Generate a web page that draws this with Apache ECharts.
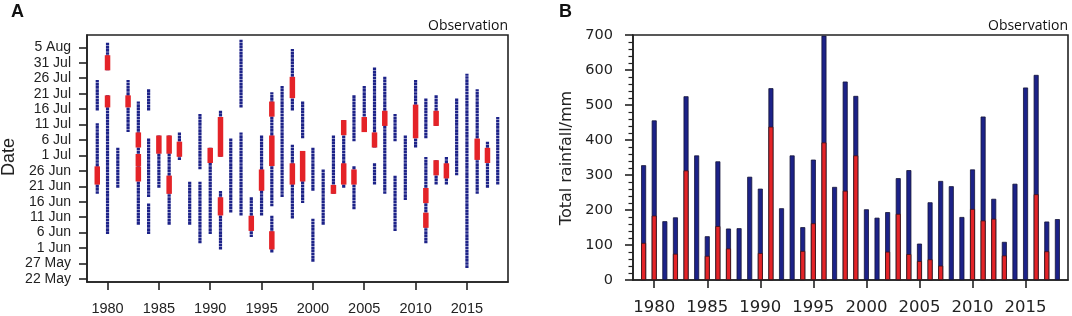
<!DOCTYPE html>
<html>
<head>
<meta charset="utf-8">
<script src="https://cdn.jsdelivr.net/npm/echarts@6/dist/echarts.min.js"></script>
<style>
  html, body { margin: 0; padding: 0; background: #fff; }
  #chart { width: 1072px; height: 316px; }
</style>
</head>
<body>
<div id="chart"></div>
<script>
// panel B: total rainfall per year, red part = heavy-rain share (null = no red bar)
const years = [1979, 1980, 1981, 1982, 1983, 1984, 1985, 1986, 1987, 1988,
  1989, 1990, 1991, 1992, 1993, 1994, 1995, 1996, 1997, 1998,
  1999, 2000, 2001, 2002, 2003, 2004, 2005, 2006, 2007, 2008,
  2009, 2010, 2011, 2012, 2013, 2014, 2015, 2016, 2017, 2018];
const totalRain = [328, 456, 168, 179, 525, 356, 125, 339, 147, 148,
  295, 261, 548, 205, 356, 151, 344, 698, 266, 567,
  526, 202, 178, 194, 291, 314, 104, 222, 283, 268,
  180, 316, 467, 232, 109, 275, 550, 586, 167, 174];
const heavyRain = [106, 184, null, 75, 313, null, 69, 154, 90, null,
  null, 77, 438, null, null, 83, 162, 393, null, 255,
  356, null, null, 81, 189, 74, 54, 59, 41, null,
  null, 203, 170, 175, 70, null, null, 245, 82, null];

// panel A: tick labels of the date axis
const dateTicks = ['22 May', '27 May', '1 Jun', '6 Jun', '11 Jun', '16 Jun', '21 Jun', '26 Jun',
  '1 Jul', '6 Jul', '11 Jul', '16 Jul', '21 Jul', '26 Jul', '31 Jul', '5 Aug'];
const yearTicks = [1980, 1985, 1990, 1995, 2000, 2005, 2010, 2015];
const rainTicks = [0, 100, 200, 300, 400, 500, 600, 700];

// panel A: rainy periods [year, first day, last day]
const rainPeriods = [
  [1979, '16 Jul', '25 Jul'], [1979, '19 Jun', '11 Jul'],
  [1980, '29 Jul', '6 Aug'], [1980, '6 Jun', '20 Jul'],
  [1981, '21 Jun', '3 Jul'],
  [1982, '9 Jul', '25 Jul'],
  [1983, '9 Jun', '18 Jul'],
  [1984, '16 Jul', '22 Jul'], [1984, '18 Jun', '6 Jul'], [1984, '6 Jun', '15 Jun'],
  [1985, '21 Jun', '7 Jul'],
  [1986, '9 Jun', '7 Jul'],
  [1987, '30 Jun', '8 Jul'],
  [1988, '9 Jun', '22 Jun'],
  [1989, '27 Jun', '14 Jul'], [1989, '3 Jun', '22 Jun'],
  [1990, '6 Jun', '3 Jul'],
  [1991, '1 Jul', '15 Jul'], [1991, '1 Jun', '19 Jun'],
  [1992, '13 Jun', '6 Jul'],
  [1993, '17 Jul', '7 Aug'], [1993, '12 Jun', '8 Jul'],
  [1994, '5 Jun', '17 Jun'],
  [1995, '12 Jun', '7 Jul'],
  [1996, '15 Jun', '21 Jul'], [1996, '31 May', '11 Jun'],
  [1997, '18 Jun', '23 Jul'],
  [1998, '16 Jul', '4 Aug'], [1998, '11 Jun', '4 Jul'],
  [1999, '7 Jul', '18 Jul'], [1999, '16 Jun', '2 Jul'],
  [2000, '20 Jun', '3 Jul'], [2000, '28 May', '10 Jun'],
  [2001, '9 Jun', '26 Jun'],
  [2002, '19 Jun', '7 Jul'],
  [2003, '21 Jun', '12 Jul'],
  [2004, '6 Jul', '20 Jul'], [2004, '14 Jun', '27 Jun'],
  [2005, '9 Jul', '23 Jul'],
  [2006, '4 Jul', '29 Jul'], [2006, '22 Jun', '28 Jun'],
  [2007, '19 Jun', '26 Jul'],
  [2008, '6 Jul', '14 Jul'], [2008, '7 Jun', '24 Jun'],
  [2009, '17 Jun', '7 Jul'],
  [2010, '4 Jul', '25 Jul'],
  [2011, '7 Jul', '19 Jul'], [2011, '3 Jun', '30 Jun'],
  [2012, '11 Jul', '20 Jul'], [2012, '22 Jun', '29 Jun'],
  [2013, '22 Jun', '30 Jun'],
  [2014, '25 Jun', '19 Jul'],
  [2015, '26 May', '27 Jul'],
  [2016, '19 Jun', '22 Jul'],
  [2017, '21 Jun', '5 Jul'],
  [2018, '22 Jun', '13 Jul'],
];

// panel A: heavy-rain periods (red)
const heavyPeriods = [
  [1979, '22 Jun', '27 Jun'],
  [1980, '29 Jul', '2 Aug'], [1980, '17 Jul', '20 Jul'],
  [1982, '17 Jul', '20 Jul'],
  [1983, '4 Jul', '8 Jul'], [1983, '28 Jun', '1 Jul'], [1983, '23 Jun', '27 Jun'],
  [1985, '2 Jul', '7 Jul'],
  [1986, '2 Jul', '7 Jul'], [1986, '19 Jun', '24 Jun'],
  [1987, '1 Jul', '5 Jul'],
  [1990, '29 Jun', '3 Jul'],
  [1991, '1 Jul', '13 Jul'], [1991, '12 Jun', '17 Jun'],
  [1994, '7 Jun', '11 Jun'],
  [1995, '20 Jun', '26 Jun'],
  [1996, '14 Jul', '18 Jul'], [1996, '28 Jun', '7 Jul'], [1996, '1 Jun', '6 Jun'],
  [1998, '20 Jul', '26 Jul'], [1998, '22 Jun', '28 Jun'],
  [1999, '23 Jun', '2 Jul'],
  [2002, '19 Jun', '21 Jun'],
  [2003, '8 Jul', '12 Jul'], [2003, '22 Jun', '28 Jun'],
  [2004, '22 Jun', '26 Jun'],
  [2005, '9 Jul', '13 Jul'],
  [2006, '4 Jul', '8 Jul'],
  [2007, '11 Jul', '15 Jul'],
  [2010, '7 Jul', '17 Jul'],
  [2011, '16 Jun', '20 Jun'], [2011, '8 Jun', '12 Jun'],
  [2012, '11 Jul', '15 Jul'], [2012, '25 Jun', '29 Jun'],
  [2013, '24 Jun', '28 Jun'],
  [2016, '30 Jun', '6 Jul'],
  [2017, '29 Jun', '3 Jul'],
];

const monthStart = {May: 120, Jun: 151, Jul: 181, Aug: 212};
function dayOfYear(s) {
  const [d, m] = s.split(' ');
  return monthStart[m] + Number(d);
}
const tickDays = dateTicks.map(dayOfYear);
const tickLabel = {};
dateTicks.forEach((t, i) => { tickLabel[tickDays[i]] = t; });

const BLUE = '#1c2288';
const RED = '#e42328';
const AXIS = '#222';

// a period covers its first and last day dots fully
const toSpan = p => [p[0], dayOfYear(p[1]) - 0.45, dayOfYear(p[2]) + 0.45];

function periodRenderer(color, width, dash) {
  return (params, api) => {
    const a = api.coord([api.value(0), api.value(1)]);
    const b = api.coord([api.value(0), api.value(2)]);
    return {
      type: 'line',
      shape: {x1: a[0], y1: a[1], x2: b[0], y2: b[1]},
      style: {stroke: color, lineWidth: width, lineDash: dash, lineCap: 'butt'}
    };
  };
}

const axisLine = {show: true, lineStyle: {color: AXIS, width: 1.6}};
const axisTick = {show: true, length: 8, lineStyle: {color: AXIS, width: 1.6}};
const yearLabel = v => String(v);

const chart = echarts.init(document.getElementById('chart'), null, {renderer: 'canvas'});
chart.setOption({
  animation: false,
  backgroundColor: '#fff',
  grid: [
    {left: 87, top: 35, right: 564, bottom: 33, show: true, borderColor: AXIS, borderWidth: 1.6},
    {left: 633, top: 35, right: 4, bottom: 33, show: true, borderColor: AXIS, borderWidth: 1.6}
  ],
  xAxis: [
    {
      gridIndex: 0, type: 'value', min: 1978, max: 2019,
      axisLine, splitLine: {show: false},
      axisTick: Object.assign({customValues: yearTicks}, axisTick),
      axisLabel: {customValues: yearTicks, margin: 19, color: '#222', fontSize: 14.5,
        fontFamily: 'Liberation Sans, Arial, sans-serif', formatter: yearLabel}
    },
    {
      gridIndex: 1, type: 'value', min: 1978, max: 2019,
      axisLine, splitLine: {show: false},
      axisTick: Object.assign({customValues: yearTicks}, axisTick),
      axisLabel: {customValues: yearTicks, margin: 19, color: '#222', fontSize: 16.5,
        fontFamily: 'DejaVu Sans, sans-serif', formatter: yearLabel}
    }
  ],
  yAxis: [
    {
      gridIndex: 0, type: 'value', min: 141, max: 221,
      axisLine, splitLine: {show: false},
      axisTick: Object.assign({customValues: tickDays}, axisTick),
      axisLabel: {customValues: tickDays, margin: 16, color: '#222', fontSize: 14,
        fontFamily: 'Liberation Sans, Arial, sans-serif',
        formatter: v => tickLabel[Math.round(v)] || ''}
    },
    {
      gridIndex: 1, type: 'value', min: 0, max: 700, interval: 100,
      axisLine, splitLine: {show: false}, axisTick,
      minorTick: {show: true, splitNumber: 5, length: 4.5, lineStyle: {color: AXIS, width: 1.2}},
      axisLabel: {margin: 20, color: '#222', fontSize: 14.5, fontFamily: 'DejaVu Sans, sans-serif',
        customValues: rainTicks}
    }
  ],
  graphic: [
    {type: 'text', left: 11, top: 3, style: {text: 'A', font: 'bold 18px Liberation Sans, Arial, sans-serif', fill: '#111'}},
    {type: 'text', left: 559, top: 3, style: {text: 'B', font: 'bold 18px Liberation Sans, Arial, sans-serif', fill: '#111'}},
    {type: 'text', x: 508, y: 33, style: {text: 'Observation', font: '14px Open Sans, sans-serif', fill: '#111', align: 'right', verticalAlign: 'bottom'}},
    {type: 'text', x: 1068, y: 33, style: {text: 'Observation', font: '14px Open Sans, sans-serif', fill: '#111', align: 'right', verticalAlign: 'bottom'}},
    {type: 'text', x: 9, y: 157, rotation: Math.PI / 2, style: {text: 'Date', font: '18px Liberation Sans, Arial, sans-serif', fill: '#222', align: 'center', verticalAlign: 'middle'}},
    {type: 'text', x: 567, y: 158, rotation: Math.PI / 2, style: {text: 'Total rainfall/mm', font: '16px DejaVu Sans, sans-serif', fill: '#222', align: 'center', verticalAlign: 'middle'}}
  ],
  series: [
    {
      type: 'custom', xAxisIndex: 0, yAxisIndex: 0,
      renderItem: periodRenderer(BLUE, 3.2, [2.7, 0.4]),
      encode: {x: 0, y: [1, 2]},
      data: rainPeriods.map(toSpan), z: 2
    },
    {
      type: 'custom', xAxisIndex: 0, yAxisIndex: 0,
      renderItem: periodRenderer(RED, 5.5, null),
      encode: {x: 0, y: [1, 2]},
      data: heavyPeriods.map(toSpan), z: 3
    },
    {
      type: 'bar', xAxisIndex: 1, yAxisIndex: 1,
      barWidth: 5, barGap: '-100%',
      itemStyle: {color: BLUE, borderColor: '#141438', borderWidth: 0.8},
      data: years.map((y, i) => [y, totalRain[i]]), z: 2
    },
    {
      type: 'bar', xAxisIndex: 1, yAxisIndex: 1,
      barWidth: 5, barGap: '-100%',
      itemStyle: {color: RED, borderColor: '#3a1414', borderWidth: 0.8},
      data: years.map((y, i) => [y, heavyRain[i]]), z: 3
    }
  ]
});
</script>
</body>
</html>
